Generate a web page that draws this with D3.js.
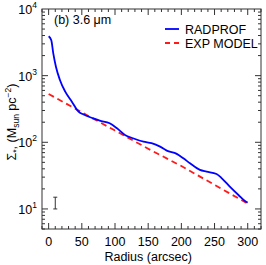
<!DOCTYPE html>
<html>
<head>
<meta charset="utf-8">
<script src="https://cdn.jsdelivr.net/npm/d3@7"></script>
<style>
  body { margin: 0; background: #fff; }
  svg { font-family: "Liberation Sans", Arial, sans-serif; }
</style>
</head>
<body>
<svg width="266" height="265"></svg>
<script>
// radial profile (arcsec, Msun pc^-2)
const radprofR = [0, 4, 7, 11, 17, 25, 35, 45, 52, 67, 77, 92, 103, 115, 127, 143, 155, 168, 178, 193, 203, 213, 228, 238, 253, 261, 273, 286, 297, 300];
const radprofS = [3900, 3400, 2160, 1360, 860, 575, 407, 288, 263, 229, 211, 193, 162, 129, 115, 102, 97, 86, 75, 67, 57.5, 48.4, 38.5, 36.3, 33.5, 28.8, 21.6, 16.2, 12.9, 12.5];
// exponential model
const modelR = [0, 50, 100, 150, 200, 250, 300];
const modelS = [531, 282, 150, 80, 44, 23, 12];
const xTicks = [0, 50, 100, 150, 200, 250, 300];
const yTicks = [10, 100, 1000, 10000];
// typical error bar
const errR = 10, errLo = 10, errHi = 15;

const svg = d3.select("svg");
const margin = { top: 9, right: 5, bottom: 36, left: 42 };
const width = 266 - margin.left - margin.right;
const height = 265 - margin.top - margin.bottom;
const g = svg.append("g").attr("transform", `translate(${margin.left},${margin.top})`);

const x = d3.scaleLinear().domain([-10, 320]).range([0, width]);
const y = d3.scaleLog().domain([5, 10000]).range([height, 0]);

// minor ticks
const xMinor = d3.range(-10, 321, 10);
const yMinor = [];
for (let e = 0; e < 4; e++) for (let m = 1; m < 10; m++) yMinor.push(m * Math.pow(10, e));
const yMinorIn = yMinor.filter(v => v >= 5 && v <= 10000);

const ticks = g.append("g").attr("stroke", "#333").attr("stroke-width", 1);
xMinor.forEach(v => {
  const big = xTicks.includes(v);
  const L = big ? 6 : 3;
  ticks.append("line").attr("x1", x(v)).attr("x2", x(v)).attr("y1", height).attr("y2", height - L);
  ticks.append("line").attr("x1", x(v)).attr("x2", x(v)).attr("y1", 0).attr("y2", L);
});
yMinorIn.forEach(v => {
  const big = yTicks.includes(v);
  const L = big ? 6 : 3;
  ticks.append("line").attr("x1", 0).attr("x2", L).attr("y1", y(v)).attr("y2", y(v));
  ticks.append("line").attr("x1", width).attr("x2", width - L).attr("y1", y(v)).attr("y2", y(v));
});

g.append("rect").attr("width", width).attr("height", height)
  .attr("fill", "none").attr("stroke", "#333").attr("stroke-width", 1);

// x tick labels
g.selectAll(".xl").data(xTicks).enter().append("text")
  .attr("x", d => x(d)).attr("y", height + 17)
  .attr("text-anchor", "middle").attr("font-size", 12.5).text(d => d);

// y tick labels as 10^n
yTicks.forEach(v => {
  const t = g.append("text").attr("x", -5).attr("y", y(v) + 5)
    .attr("text-anchor", "end").attr("font-size", 12.5);
  t.append("tspan").text("10");
  t.append("tspan").attr("dy", -6).attr("font-size", 8.5).text(Math.round(Math.log10(v)));
});

// axis titles
svg.append("text").attr("x", margin.left + x(150)).attr("y", 261)
  .attr("text-anchor", "middle").attr("font-size", 12.5).text("Radius (arcsec)");

const yt = svg.append("text").attr("transform", "translate(16,122) rotate(-90)")
  .attr("text-anchor", "middle").attr("font-size", 12.5);
yt.append("tspan").text("Σ");
yt.append("tspan").attr("dy", 3).attr("font-size", 8.5).text("*");
yt.append("tspan").attr("dy", -3).text(", (M");
yt.append("tspan").attr("dy", 3).attr("font-size", 8.5).text("sun");
yt.append("tspan").attr("dy", -3).text(" pc");
yt.append("tspan").attr("dy", -5).attr("font-size", 8.5).text("−2");
yt.append("tspan").attr("dy", 5).text(")");

// lines
const line = d3.line().x(d => x(d[0])).y(d => y(d[1])).curve(d3.curveMonotoneX);
g.append("path").datum(d3.zip(modelR, modelS)).attr("d", d3.line().x(d => x(d[0])).y(d => y(d[1])))
  .attr("fill", "none").attr("stroke", "#ff1a1a").attr("stroke-width", 1.8).attr("stroke-dasharray", "6,4");
g.append("path").datum(d3.zip(radprofR, radprofS)).attr("d", line)
  .attr("fill", "none").attr("stroke", "#0000ff").attr("stroke-width", 1.8);

// error bar
const eb = g.append("g").attr("stroke", "#333").attr("stroke-width", 1);
eb.append("line").attr("x1", x(errR)).attr("x2", x(errR)).attr("y1", y(errLo)).attr("y2", y(errHi));
[errLo, errHi].forEach(v => eb.append("line").attr("x1", x(errR) - 2).attr("x2", x(errR) + 2).attr("y1", y(v)).attr("y2", y(v)));

// panel label
g.append("text").attr("x", 12).attr("y", 15).attr("font-size", 12.5).text("(b) 3.6 μm");

// legend
const leg = g.append("g");
leg.append("line").attr("x1", 123).attr("x2", 137).attr("y1", 20).attr("y2", 20)
  .attr("stroke", "#0000ff").attr("stroke-width", 1.8);
leg.append("text").attr("x", 143).attr("y", 25).attr("font-size", 12.5).text("RADPROF");
leg.append("line").attr("x1", 123).attr("x2", 137).attr("y1", 34).attr("y2", 34)
  .attr("stroke", "#ff1a1a").attr("stroke-width", 1.8).attr("stroke-dasharray", "5,4");
leg.append("text").attr("x", 143).attr("y", 39).attr("font-size", 12.5).text("EXP MODEL");
</script>
</body>
</html>
